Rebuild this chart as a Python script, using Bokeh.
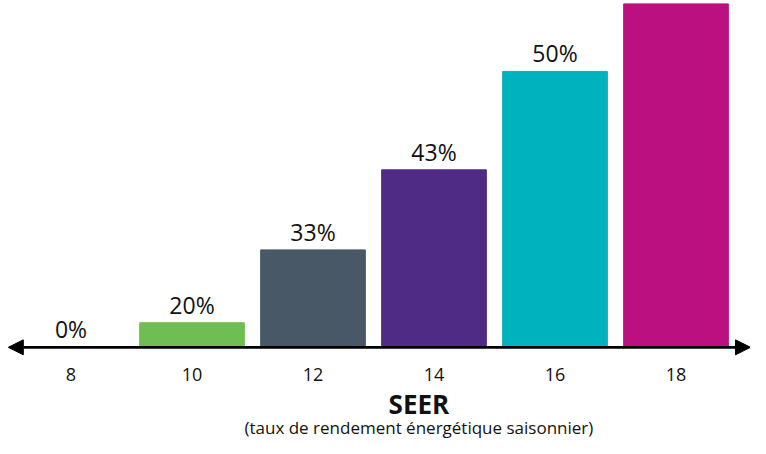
from bokeh.plotting import figure
from bokeh.models import ColumnDataSource, Range1d, Arrow, NormalHead, LabelSet, Label
from bokeh.core.properties import value
from bokeh.embed import file_html
from bokeh.resources import INLINE

# data
seer = [8, 10, 12, 14, 16, 18]
tick_labels = ["8", "10", "12", "14", "16", "18"]
pct_labels = ["0%", "20%", "33%", "43%", "50%", ""]
bar_heights = [0, 25.5, 101, 184, 286, 356]  # drawn heights (relative units)
colors = ["#ffffff", "#6fbe54", "#485867", "#502b85", "#00b2bd", "#bb1080"]
x_title = "SEER"
x_subtitle = "(taux de rendement énergétique saisonnier)"

FONT = "Open Sans"
TXT = "#111111"

src = ColumnDataSource(dict(x=seer, top=bar_heights, color=colors, label=pct_labels))
tick_src = ColumnDataSource(dict(x=seer, y=[-28.5] * len(seer), text=tick_labels))

p = figure(width=750, height=438, output_backend="svg", toolbar_location=None,
           x_range=Range1d(6.835, 19.231), y_range=Range1d(-94.5, 359.5),
           min_border=0)
p.outline_line_color = None
p.grid.visible = False
p.axis.visible = False

p.vbar(x="x", top="top", bottom=0, width=1.73, color="color", source=src)

labels = LabelSet(x="x", y="top", text="label", source=src, text_align="center",
                  text_baseline="alphabetic", y_offset=9, text_font_size=value("23px"),
                  text_font=value(FONT), text_color=value(TXT))
p.add_layout(labels)

arrow = Arrow(x_start=6.964, x_end=19.231, y_start=0, y_end=0, line_width=2.6, line_color="black",
              start=NormalHead(size=15, fill_color="black", line_color="black"),
              end=NormalHead(size=15, fill_color="black", line_color="black"))
p.add_layout(arrow)

# category (tick) labels under the axis line
p.text(x="x", y="y", text="text", source=tick_src, text_align="center", text_baseline="middle",
       text_font=value(FONT), text_font_size=value("18px"), text_color=TXT)

mid_x = 13.75
p.add_layout(Label(x=mid_x, y=-58.5, text=x_title, text_align="center", text_baseline="middle",
                   text_font=FONT, text_font_style="bold", text_font_size="26px",
                   text_color=TXT))
p.add_layout(Label(x=mid_x, y=-83.5, text=x_subtitle, text_align="center", text_baseline="middle",
                   text_font=FONT, text_font_size="17px", text_color=TXT))

open("out.html", "w").write(file_html(p, INLINE))
